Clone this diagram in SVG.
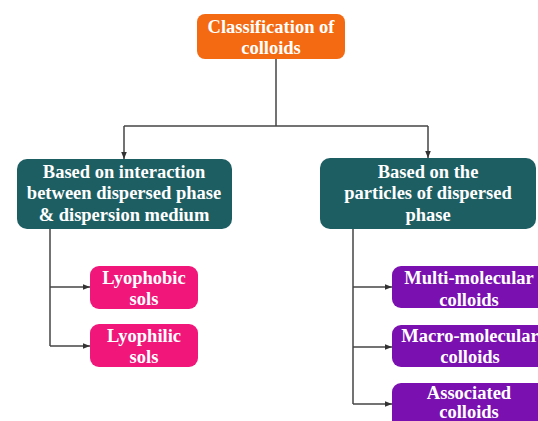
<svg xmlns="http://www.w3.org/2000/svg" width="538" height="421" viewBox="0 0 538 421">
<defs>
<marker id="ah" viewBox="0 0 10 10" refX="10" refY="5" markerWidth="7" markerHeight="7" markerUnits="userSpaceOnUse" orient="auto">
<path d="M0,1 L10,5 L0,9 Z" fill="#333"/>
</marker>
<style>
.t{font-family:"Liberation Serif","Times New Roman",serif;font-weight:bold;font-size:18.5px;fill:#fff;text-anchor:middle}
.c{fill:none;stroke:#444;stroke-width:1.5}
</style>
</defs>
<rect width="538" height="421" fill="#fff"/>
<g id="connectors">
<path class="c" d="M276,59 V126"/>
<path class="c" d="M124,126 H428"/>
<path class="c" d="M124,126 V159" marker-end="url(#ah)"/>
<path class="c" d="M428,126 V158" marker-end="url(#ah)"/>
<path class="c" d="M50,229 V346"/>
<path class="c" d="M50,287 H90" marker-end="url(#ah)"/>
<path class="c" d="M50,346 H90" marker-end="url(#ah)"/>
<path class="c" d="M353,229 V404"/>
<path class="c" d="M353,287 H392" marker-end="url(#ah)"/>
<path class="c" d="M353,347 H392" marker-end="url(#ah)"/>
<path class="c" d="M353,404 H392" marker-end="url(#ah)"/>
</g>
<g id="root">
<rect x="197" y="14" width="148" height="45" rx="8" fill="#F46A12"/>
<text class="t" x="271" y="33">Classification of</text>
<text class="t" x="271" y="54">colloids</text>
</g>
<g id="interaction">
<rect x="17" y="159" width="215" height="70" rx="10" fill="#1D5E63"/>
<text class="t" x="124" y="178">Based on interaction</text>
<text class="t" x="124" y="199">between dispersed phase</text>
<text class="t" x="124" y="221">&amp; dispersion medium</text>
</g>
<g id="particles">
<rect x="320" y="158" width="216" height="71" rx="10" fill="#1D5E63"/>
<text class="t" x="428" y="178">Based on the</text>
<text class="t" x="428" y="199">particles of dispersed</text>
<text class="t" x="428" y="221">phase</text>
</g>
<g id="lyophobic">
<rect x="90" y="266" width="108" height="43" rx="9" fill="#F0167A"/>
<text class="t" x="144" y="284">Lyophobic</text>
<text class="t" x="144" y="305">sols</text>
</g>
<g id="lyophilic">
<rect x="90" y="324" width="108" height="43" rx="9" fill="#F0167A"/>
<text class="t" x="144" y="342">Lyophilic</text>
<text class="t" x="144" y="363">sols</text>
</g>
<g id="multi">
<rect x="392" y="266" width="156" height="42" rx="9" fill="#7A10B0"/>
<text class="t" x="469" y="284">Multi-molecular</text>
<text class="t" x="469" y="306">colloids</text>
</g>
<g id="macro">
<rect x="392" y="325" width="156" height="42" rx="9" fill="#7A10B0"/>
<text class="t" x="470" y="342">Macro-molecular</text>
<text class="t" x="470" y="363">colloids</text>
</g>
<g id="associated">
<rect x="392" y="383" width="156" height="48" rx="9" fill="#7A10B0"/>
<text class="t" x="469" y="399">Associated</text>
<text class="t" x="469" y="418">colloids</text>
</g>
</svg>
